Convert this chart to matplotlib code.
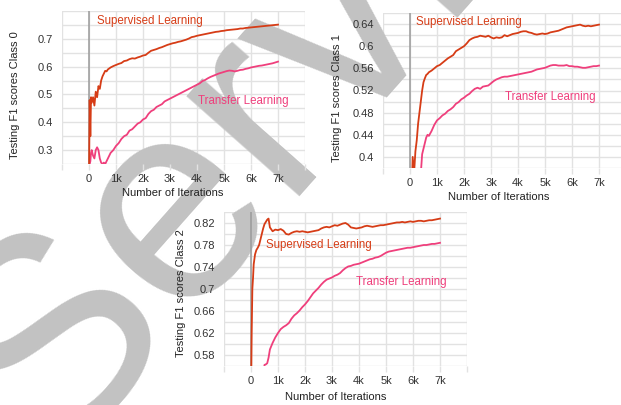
import matplotlib
matplotlib.use("Agg")
import matplotlib.pyplot as plt

plt.rcParams['font.family'] = ['Liberation Sans', 'DejaVu Sans']

W, H = 621, 405

# ---------------- data ----------------
iters = [0, 25, 50, 75, 100, 150, 200, 250, 300, 350, 400, 450, 500, 550, 600, 650, 700] + list(range(800, 7001, 100))

sup_class0 = [0.20, 0.48, 0.35, 0.49, 0.47, 0.49, 0.46, 0.51, 0.49, 0.53, 0.52, 0.55, 0.565, 0.575, 0.585, 0.583, 0.59,
              0.597, 0.602, 0.606, 0.610, 0.613, 0.620, 0.622, 0.627, 0.630, 0.629, 0.633, 0.636, 0.640,
              0.642, 0.650, 0.657, 0.660, 0.663, 0.667, 0.670, 0.674, 0.678, 0.681,
              0.684, 0.686, 0.689, 0.691, 0.694, 0.697, 0.701, 0.706, 0.708, 0.711,
              0.713, 0.715, 0.717, 0.719, 0.721, 0.723, 0.725, 0.726, 0.728, 0.729,
              0.731, 0.732, 0.733, 0.734, 0.735, 0.737, 0.737, 0.739, 0.740, 0.741,
              0.742, 0.743, 0.744, 0.745, 0.746, 0.747, 0.748, 0.749, 0.750, 0.751]
tra_class0 = [0.22, 0.25, 0.26, 0.29, 0.30, 0.28, 0.27, 0.30, 0.31, 0.30, 0.27, 0.255, 0.25, 0.255, 0.25, 0.26, 0.27,
              0.29, 0.30, 0.315, 0.325, 0.34, 0.35, 0.355, 0.37, 0.375, 0.385, 0.395, 0.40, 0.41,
              0.415, 0.43, 0.44, 0.445, 0.455, 0.46, 0.465, 0.475, 0.48, 0.485,
              0.49, 0.495, 0.50, 0.505, 0.51, 0.515, 0.52, 0.525, 0.53, 0.535,
              0.54, 0.548, 0.552, 0.558, 0.563, 0.567, 0.571, 0.575, 0.578, 0.581,
              0.584, 0.586, 0.585, 0.583, 0.585, 0.588, 0.589, 0.592, 0.594, 0.597,
              0.599, 0.601, 0.603, 0.604, 0.606, 0.608, 0.610, 0.612, 0.615, 0.618]

sup_class1 = [0.30, 0.33, 0.37, 0.36, 0.40, 0.37, 0.41, 0.43, 0.46, 0.48, 0.50, 0.52, 0.535, 0.542, 0.548, 0.550, 0.553,
              0.556, 0.560, 0.564, 0.566, 0.570, 0.574, 0.578, 0.581, 0.584, 0.591, 0.594, 0.597, 0.600,
              0.605, 0.611, 0.614, 0.616, 0.617, 0.619, 0.618, 0.617, 0.619, 0.616,
              0.614, 0.616, 0.615, 0.616, 0.620, 0.618, 0.620, 0.622, 0.623, 0.624,
              0.626, 0.627, 0.627, 0.625, 0.624, 0.622, 0.621, 0.622, 0.623, 0.622,
              0.623, 0.625, 0.626, 0.627, 0.628, 0.630, 0.632, 0.634, 0.635, 0.636,
              0.637, 0.638, 0.639, 0.637, 0.636, 0.637, 0.636, 0.637, 0.638, 0.639]
tra_class1 = [0.30, 0.30, 0.30, 0.30, 0.30, 0.30, 0.30, 0.30, 0.30, 0.30, 0.37, 0.405, 0.415, 0.425, 0.435, 0.440, 0.438,
              0.447, 0.458, 0.466, 0.470, 0.475, 0.478, 0.483, 0.486, 0.490, 0.496, 0.499, 0.504, 0.507,
              0.511, 0.514, 0.519, 0.523, 0.525, 0.523, 0.527, 0.528, 0.529, 0.533,
              0.537, 0.540, 0.542, 0.544, 0.545, 0.545, 0.546, 0.547, 0.548, 0.549,
              0.550, 0.551, 0.552, 0.553, 0.554, 0.556, 0.558, 0.559, 0.560, 0.561,
              0.563, 0.565, 0.566, 0.566, 0.565, 0.565, 0.565, 0.566, 0.564, 0.564,
              0.563, 0.563, 0.562, 0.561, 0.561, 0.562, 0.563, 0.564, 0.564, 0.565]

sup_class2 = [0.50, 0.62, 0.70, 0.72, 0.745, 0.763, 0.771, 0.775, 0.780, 0.790, 0.800, 0.810, 0.818, 0.822, 0.826, 0.828, 0.812,
              0.805, 0.808, 0.807, 0.809, 0.806, 0.800, 0.799, 0.802, 0.804, 0.805, 0.804, 0.805, 0.804,
              0.803, 0.804, 0.805, 0.806, 0.807, 0.810, 0.812, 0.813, 0.812, 0.814,
              0.816, 0.815, 0.817, 0.819, 0.820, 0.817, 0.812, 0.811, 0.810, 0.811,
              0.812, 0.814, 0.815, 0.814, 0.813, 0.814, 0.815, 0.816, 0.816, 0.817,
              0.818, 0.819, 0.820, 0.821, 0.821, 0.822, 0.821, 0.822, 0.823, 0.822,
              0.823, 0.824, 0.824, 0.823, 0.824, 0.825, 0.825, 0.826, 0.827, 0.828]
tra_class2 = [0.54, 0.54, 0.54, 0.54, 0.54, 0.54, 0.54, 0.54, 0.54, 0.54, 0.54, 0.54, 0.562, 0.563, 0.565, 0.575, 0.590,
              0.602, 0.612, 0.620, 0.627, 0.631, 0.634, 0.638, 0.646, 0.652, 0.656, 0.661, 0.667, 0.672,
              0.678, 0.685, 0.692, 0.697, 0.702, 0.708, 0.713, 0.717, 0.719, 0.721,
              0.724, 0.726, 0.729, 0.734, 0.738, 0.741, 0.742, 0.744, 0.745, 0.746,
              0.748, 0.750, 0.752, 0.754, 0.755, 0.757, 0.758, 0.760, 0.763, 0.766,
              0.768, 0.769, 0.770, 0.771, 0.772, 0.773, 0.774, 0.775, 0.775, 0.776,
              0.777, 0.778, 0.779, 0.780, 0.780, 0.781, 0.782, 0.782, 0.783, 0.784]

x_ticks = [-1000, 0, 1000, 2000, 3000, 4000, 5000, 6000, 7000, 8000]
x_tick_labels = ['', '0', '1k', '2k', '3k', '4k', '5k', '6k', '7k', '']

y_ticks0 = [0.3, 0.4, 0.5, 0.6, 0.7]
y_labels0 = ['0.3', '0.4', '0.5', '0.6', '0.7']
y_ticks1 = [0.40, 0.44, 0.48, 0.52, 0.56, 0.60, 0.64]
y_labels1 = ['0.4', '0.44', '0.48', '0.52', '0.56', '0.6', '0.64']
y_ticks2 = [0.58, 0.62, 0.66, 0.70, 0.74, 0.78, 0.82]
y_labels2 = ['0.58', '0.62', '0.66', '0.7', '0.74', '0.78', '0.82']

SUP_C = '#d63c16'
TRA_C = '#ef3f7c'
GRID_C = '#e2e2e2'
TXT_C = '#333333'

fig = plt.figure(figsize=(W / 100, H / 100), dpi=100)
fig.patch.set_facecolor('white')


def px_rect(l, t, r, b):
    return [l / W, 1 - b / H, (r - l) / W, (b - t) / H]


def panel(rect, ylim, ystep, yticks, ylabels, sup, tra, ylabel, sup_pos, tra_pos, ylab_xy, xlab_xy):
    # background axes with grid only
    bg = fig.add_axes(rect, zorder=0)
    bg.set_xlim(-1000, 8000)
    bg.set_ylim(*ylim)
    n = int(round((ylim[1] - ylim[0]) / ystep))
    grid_y = [ylim[0] + i * ystep for i in range(n + 1)]
    for gy in grid_y:
        bg.axhline(gy, color=GRID_C, lw=1.0)
    for gx in x_ticks:
        bg.axvline(gx, color=GRID_C, lw=1.0)
    bg.set_xticks([])
    bg.set_yticks([])
    for s in bg.spines.values():
        s.set_visible(False)

    ax = fig.add_axes(rect, zorder=2)
    ax.patch.set_alpha(0)
    ax.set_xlim(-1000, 8000)
    ax.set_ylim(*ylim)
    for s in ax.spines.values():
        s.set_visible(False)
    ax.axvline(0, color='#9a9a9a', lw=1.1)
    ax.plot(iters, tra, color=TRA_C, lw=1.3, clip_on=True)
    ax.plot(iters, sup, color=SUP_C, lw=1.3, clip_on=True)
    ax.set_xticks(x_ticks)
    ax.set_xticklabels(x_tick_labels)
    ax.set_yticks(yticks)
    ax.set_yticklabels(ylabels)
    ax.tick_params(axis='x', length=4, width=1, color=GRID_C, pad=3.5, labelsize=8, labelcolor=TXT_C)
    ax.tick_params(axis='y', length=0, pad=6.5, labelsize=8, labelcolor=TXT_C)
    ax.set_ylabel(ylabel, fontsize=8, color='#222222', va='center')
    ax.yaxis.set_label_coords(*ylab_xy)
    ax.set_xlabel('Number of Iterations', fontsize=8, color='#222222', va='center')
    ax.xaxis.set_label_coords(*xlab_xy)
    ax.text(sup_pos[0], sup_pos[1], 'Supervised Learning', color=SUP_C, fontsize=8.3, va='center', ha='left')
    ax.text(tra_pos[0], tra_pos[1], 'Transfer Learning', color=TRA_C, fontsize=8.3, va='center', ha='left')
    return ax


panel(px_rect(62, 11, 305, 164), (0.25, 0.80), 0.05, y_ticks0, y_labels0, sup_class0, tra_class0,
      'Testing F1 scores Class 0', (300, 0.764), (4040, 0.476), (-0.193, 0.451), (0.457, -0.19))
panel(px_rect(383, 13, 626, 168), (0.38, 0.66), 0.02, y_ticks1, y_labels1, sup_class1, tra_class1,
      'Testing F1 scores Class 1', (220, 0.644), (3520, 0.509), (-0.189, 0.452), (0.477, -0.187))
panel(px_rect(224, 212, 467, 366), (0.56, 0.84), 0.02, y_ticks2, y_labels2, sup_class2, tra_class2,
      'Testing F1 scores Class 2', (560, 0.780), (3900, 0.712), (-0.177, 0.474), (0.461, -0.20))

# watermark
fig.text(52 / W, 1 - 462 / H, 'Service', rotation=48.5, rotation_mode='anchor', ha='left', va='baseline',
         fontsize=206, color='#c2c2c2', zorder=1)

fig.savefig('out.png', dpi=100, facecolor='white')
